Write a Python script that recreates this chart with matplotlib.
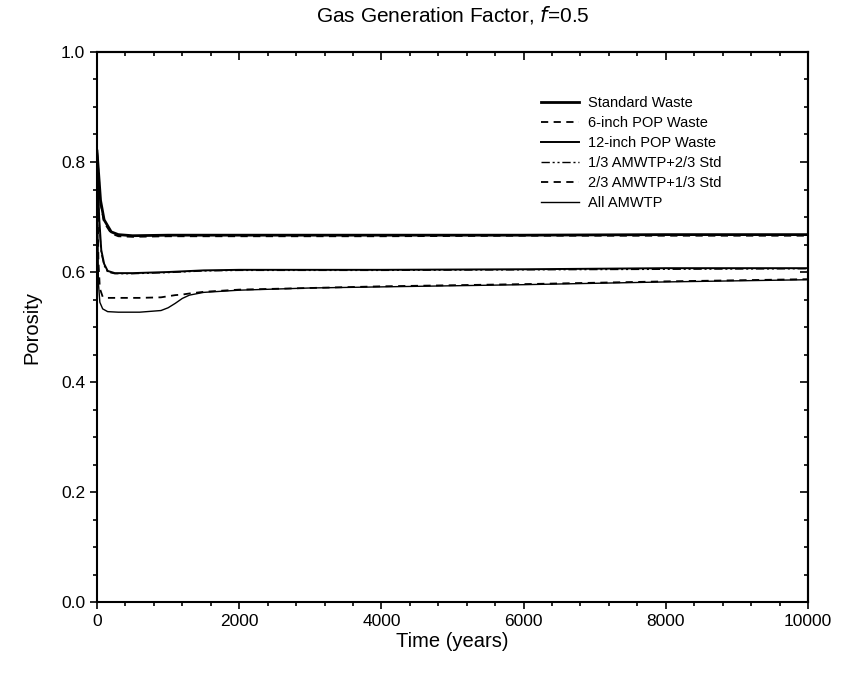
import matplotlib
matplotlib.use('Agg')
import matplotlib.pyplot as plt
from matplotlib.ticker import MultipleLocator

plt.rcParams['font.family'] = ['Liberation Sans', 'DejaVu Sans']

# Time (years) and porosity
t_std = [0, 50, 100, 200, 300, 500, 1000, 2000, 4000, 6000, 8000, 10000]
std = [0.82, 0.73, 0.695, 0.673, 0.668, 0.666, 0.667, 0.667, 0.667, 0.667, 0.668, 0.668]
pop6 = [0.82, 0.725, 0.69, 0.67, 0.665, 0.664, 0.665, 0.665, 0.665, 0.666, 0.666, 0.666]

t_mid = [0, 30, 60, 100, 150, 250, 500, 1000, 1500, 2000, 4000, 6000, 8000, 10000]
pop12 = [0.82, 0.70, 0.64, 0.615, 0.602, 0.598, 0.598, 0.600, 0.603, 0.604, 0.604, 0.605, 0.607, 0.607]
amw13 = [0.82, 0.69, 0.635, 0.612, 0.600, 0.597, 0.597, 0.599, 0.602, 0.603, 0.603, 0.604, 0.605, 0.606]

t_low = [0, 20, 40, 80, 150, 300, 600, 900, 1000, 1100, 1200, 1300, 1500, 2000, 3000, 4000, 6000, 8000, 10000]
amw23 = [0.82, 0.62, 0.57, 0.555, 0.553, 0.553, 0.553, 0.554, 0.556, 0.558, 0.559, 0.561, 0.564, 0.568, 0.571, 0.574, 0.578, 0.583, 0.587]
allam = [0.82, 0.58, 0.545, 0.533, 0.528, 0.527, 0.527, 0.530, 0.535, 0.543, 0.552, 0.558, 0.563, 0.567, 0.571, 0.573, 0.577, 0.582, 0.586]

fig = plt.figure(figsize=(8.42, 6.75), dpi=100)
ax = fig.add_axes([0.1152, 0.108, 0.8444, 0.815])

ax.plot(t_std, std, color='k', lw=2.0, label='Standard Waste')
ax.plot(t_std, pop6, color='k', lw=1.3, ls=(0, (4, 3)), label='6-inch POP Waste')
ax.plot(t_mid, pop12, color='k', lw=1.4, label='12-inch POP Waste')
ax.plot(t_mid, amw13, color='k', lw=1.0, ls=(0, (6, 2, 1.5, 2, 1.5, 2)), label='1/3 AMWTP+2/3 Std')
ax.plot(t_low, amw23, color='k', lw=1.3, ls=(0, (4, 3)), label='2/3 AMWTP+1/3 Std')
ax.plot(t_low, allam, color='k', lw=1.0, label='All AMWTP')

ax.set_xlim(0, 10000)
ax.set_ylim(0.0, 1.0)
ax.xaxis.set_major_locator(MultipleLocator(2000))
ax.xaxis.set_minor_locator(MultipleLocator(400))
ax.yaxis.set_major_locator(MultipleLocator(0.2))
ax.yaxis.set_minor_locator(MultipleLocator(0.05))
ax.yaxis.set_major_formatter(plt.FormatStrFormatter('%.1f'))
ax.tick_params(which='both', direction='out', labelsize=12.5, width=1.2)
ax.tick_params(which='major', length=5)
ax.tick_params(which='minor', length=3)

# mirrored ticks pointing inward on top and right
top = ax.secondary_xaxis('top')
top.xaxis.set_major_locator(MultipleLocator(2000))
top.xaxis.set_minor_locator(MultipleLocator(400))
top.tick_params(which='both', direction='in', labeltop=False, width=1.2)
top.tick_params(which='major', length=6)
top.tick_params(which='minor', length=3)
right = ax.secondary_yaxis('right')
right.yaxis.set_major_locator(MultipleLocator(0.2))
right.yaxis.set_minor_locator(MultipleLocator(0.05))
right.tick_params(which='both', direction='in', labelright=False, width=1.2)
right.tick_params(which='major', length=6)
right.tick_params(which='minor', length=3)

for s in list(ax.spines.values()) + [top.spines['top'], right.spines['right']]:
    s.set_linewidth(1.5)

ax.set_xlabel('Time (years)', fontsize=14.5, labelpad=2)
ax.set_ylabel('Porosity', fontsize=14.5, labelpad=14)
ax.set_title('Gas Generation Factor, $\\mathit{f}$=0.5', fontsize=15, pad=22)

ax.legend(loc='upper left', bbox_to_anchor=(0.6425, 0.858), bbox_transform=fig.transFigure,
          frameon=False, fontsize=10.5, borderpad=0, borderaxespad=0,
          handlelength=2.6, labelspacing=0.42, handletextpad=0.6)

fig.savefig('out.png', dpi=100)
